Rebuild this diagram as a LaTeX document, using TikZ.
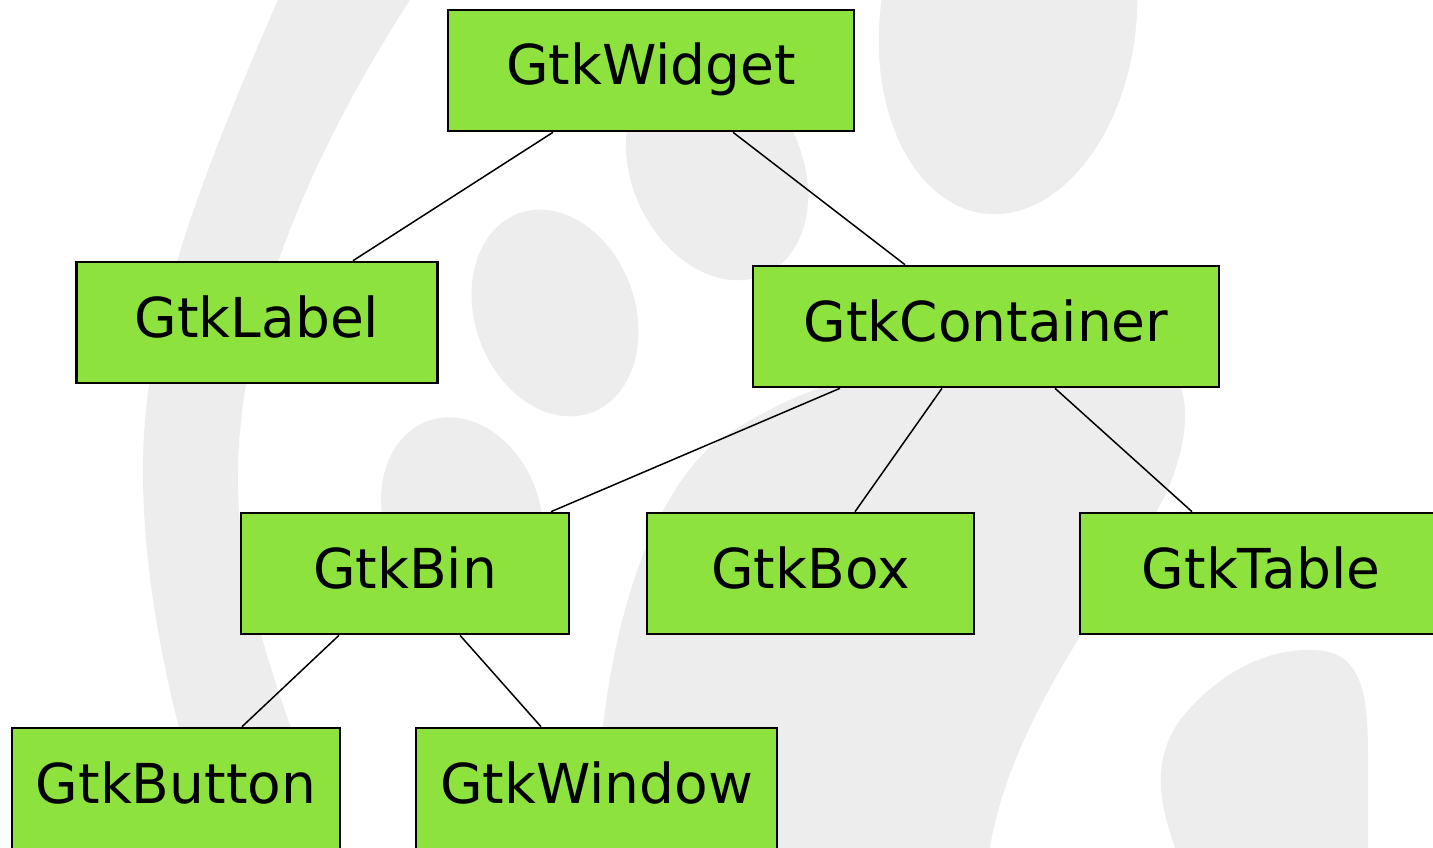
\documentclass[tikz,border=0pt]{standalone}
\usepackage{fontspec}
\setmainfont{DejaVu Sans}
\definecolor{gtkgreen}{RGB}{141,226,62}
\definecolor{foot}{RGB}{237,237,237}
\begin{document}
\begin{tikzpicture}[x=1pt,y=-1pt,
  cls/.style={draw=black, line width=2.6pt, fill=gtkgreen, minimum height=121pt,
    inner sep=0pt, text height=37pt, text depth=8pt,
    font=\fontsize{55}{66}\selectfont},
  link/.style={draw=black, line width=1.5pt}]
\useasboundingbox (0,0) rectangle (1433,848);
\fill[white] (0,0) rectangle (1433,848);
% --- background foot (light grey) ---
\begin{scope}
\clip (0,0) rectangle (1433,848);
% left arc band
\fill[foot] (280,-5) .. controls (200,180) and (140,330) .. (143,480)
  .. controls (145,620) and (185,760) .. (218,860) -- (338,860)
  .. controls (290,720) and (235,600) .. (238,470)
  .. controls (240,330) and (300,170) .. (413,-5) -- cycle;
% big toe (top right)
\fill[foot] plot[domain=0:355, samples=72, smooth cycle] ({1008 + 195*cos(\x)*cos(97) - 128*sin(\x)*sin(97)}, {20 + 195*cos(\x)*sin(97) + 128*sin(\x)*cos(97)});
% second toe
\fill[foot] plot[domain=0:355, samples=72, smooth cycle] ({717 + 115*cos(\x)*cos(65) - 85*sin(\x)*sin(65)}, {170 + 115*cos(\x)*sin(65) + 85*sin(\x)*cos(65)});
% third toe
\fill[foot] plot[domain=0:355, samples=72, smooth cycle] ({555 + 106*cos(\x)*cos(70) - 80*sin(\x)*sin(70)}, {313 + 106*cos(\x)*sin(70) + 80*sin(\x)*cos(70)});
% fourth toe
\fill[foot] plot[domain=0:355, samples=72, smooth cycle] ({462 + 100*cos(\x)*cos(70) - 78*sin(\x)*sin(70)}, {515 + 100*cos(\x)*sin(70) + 78*sin(\x)*cos(70)});
% sole
\fill[foot] (597,870) .. controls (592,700) and (630,520) .. (712,445)
  .. controls (790,390) and (860,370) .. (950,360) -- (1150,360)
  .. controls (1200,370) and (1190,450) .. (1160,505)
  .. controls (1110,600) and (1000,730) .. (987,870) -- cycle;
% heel blob (bottom right)
\fill[foot] (1183,870) .. controls (1165,820) and (1145,770) .. (1180,720)
  .. controls (1220,670) and (1270,648) .. (1315,650)
  .. controls (1365,652) and (1368,700) .. (1368,760) -- (1368,870) -- cycle;
\end{scope}
% --- class nodes ---
\node[cls, minimum width=406pt] (widget)    at (651,70.5)   {GtkWidget};
\node[cls, minimum width=361pt] (label)     at (257,322.5)  {GtkLabel};
\node[cls, minimum width=466pt] (container) at (986,326.5)  {GtkContainer};
\node[cls, minimum width=328pt] (bin)       at (405,573.5)  {GtkBin};
\node[cls, minimum width=327pt] (box)       at (810.5,573.5) {GtkBox};
\node[cls, minimum width=362pt] (table)     at (1261,573.5) {GtkTable};
\node[cls, minimum width=328pt] (button)    at (176,788.5)  {GtkButton};
\node[cls, minimum width=361pt] (window)    at (596.5,788.5) {GtkWindow};
% --- links ---
\draw[link] ([xshift=-98pt]widget.south) -- ([xshift=96pt]label.north);
\draw[link] ([xshift=82pt]widget.south) -- ([xshift=-81pt]container.north);
\draw[link] ([xshift=-146pt]container.south) -- ([xshift=146pt]bin.north);
\draw[link] ([xshift=-44pt]container.south) -- ([xshift=44.5pt]box.north);
\draw[link] ([xshift=69pt]container.south) -- ([xshift=-69pt]table.north);
\draw[link] ([xshift=-66pt]bin.south) -- ([xshift=66pt]button.north);
\draw[link] ([xshift=55pt]bin.south) -- ([xshift=-55.5pt]window.north);
\end{tikzpicture}
\end{document}
